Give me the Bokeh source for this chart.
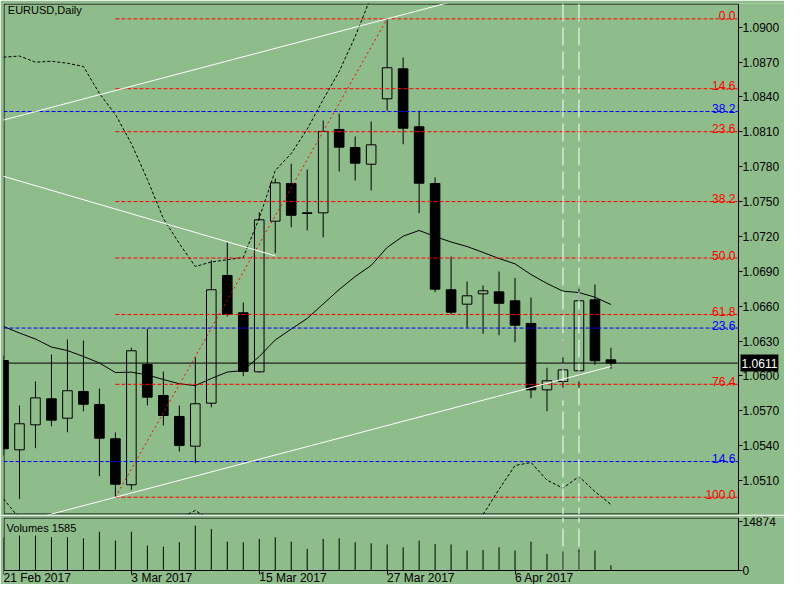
import numpy as np
from bokeh.plotting import figure
from bokeh.layouts import column
from bokeh.models import Range1d, FixedTicker, NumeralTickFormatter, Label, Span
from bokeh.embed import file_html
from bokeh.resources import INLINE
from bokeh.core.properties import value

BG = "#8FBC8B"
FONT = "Liberation Sans"
NAN = float("nan")

# ---------------- data ----------------
dates = ["21 Feb 2017", "22 Feb 2017", "23 Feb 2017", "24 Feb 2017", "27 Feb 2017", "28 Feb 2017",
         "1 Mar 2017", "2 Mar 2017", "3 Mar 2017", "6 Mar 2017", "7 Mar 2017", "8 Mar 2017",
         "9 Mar 2017", "10 Mar 2017", "13 Mar 2017", "14 Mar 2017", "15 Mar 2017", "16 Mar 2017",
         "17 Mar 2017", "20 Mar 2017", "21 Mar 2017", "22 Mar 2017", "23 Mar 2017", "24 Mar 2017",
         "27 Mar 2017", "28 Mar 2017", "29 Mar 2017", "30 Mar 2017", "31 Mar 2017", "3 Apr 2017",
         "4 Apr 2017", "5 Apr 2017", "6 Apr 2017", "7 Apr 2017", "10 Apr 2017", "11 Apr 2017",
         "12 Apr 2017", "13 Apr 2017", "14 Apr 2017"]

opens = [1.06132, 1.05364, 1.05579, 1.05803, 1.05636, 1.05866, 1.05754, 1.05459, 1.05063, 1.06098,
         1.05831, 1.05651, 1.05395, 1.05765, 1.06864, 1.06543, 1.06035, 1.07331, 1.07655, 1.07403,
         1.07403, 1.08120, 1.07965, 1.07821, 1.08384, 1.08642, 1.08143, 1.07655, 1.06741, 1.06617,
         1.06706, 1.06723, 1.06646, 1.06451, 1.05880, 1.05952, 1.06044, 1.06655, 1.06138]
highs = [1.06175, 1.05745, 1.05952, 1.06184, 1.06313, 1.06304, 1.05891, 1.05513, 1.06242, 1.06405,
         1.06038, 1.05745, 1.06158, 1.06993, 1.07150, 1.06631, 1.07408, 1.07698, 1.07825, 1.07776,
         1.08197, 1.08257, 1.08060, 1.08189, 1.09072, 1.08739, 1.08281, 1.07707, 1.07027, 1.06812,
         1.06778, 1.06898, 1.06844, 1.06674, 1.06070, 1.06304, 1.06749, 1.06786, 1.06242]
lows = [1.05315, 1.04942, 1.05378, 1.05567, 1.05515, 1.05696, 1.05137, 1.04956, 1.05020, 1.05745,
        1.05573, 1.05349, 1.05249, 1.05730, 1.06511, 1.05997, 1.06029, 1.07056, 1.07279, 1.07251,
        1.07193, 1.07758, 1.07681, 1.07595, 1.08281, 1.07993, 1.07400, 1.06720, 1.06528, 1.06414,
        1.06362, 1.06350, 1.06290, 1.05808, 1.05696, 1.05788, 1.05889, 1.06095, 1.06061]
closes = [1.05373, 1.05588, 1.05811, 1.05619, 1.05872, 1.05756, 1.05464, 1.05068, 1.06216, 1.05817,
          1.05659, 1.05401, 1.05760, 1.06741, 1.06528, 1.06038, 1.07343, 1.07661, 1.07382, 1.07397,
          1.08103, 1.07968, 1.07830, 1.07988, 1.08651, 1.08131, 1.07658, 1.06746, 1.06548, 1.06689,
          1.06732, 1.06625, 1.06436, 1.05880, 1.05958, 1.06052, 1.06646, 1.06130, 1.06110]
volumes = [10000, 10535, 10535, 10032, 10032, 9700, 11700, 9030, 11700, 7525,
           7190, 8530, 13540, 12540, 8700, 8530, 9530, 10030, 8700, 6520,
           9530, 9700, 8530, 8200, 7860, 7020, 9030, 8030, 7860, 6020,
           6190, 7020, 6020, 8700, 5020, 5690, 6350, 6020, 1585]

ma14 = [1.06425, 1.06369, 1.06317, 1.06248, 1.06218, 1.06167, 1.06111, 1.06029, 1.06032, 1.06008,
        1.05969, 1.05932, 1.05917, 1.05977, 1.06033, 1.06046, 1.06167, 1.06309, 1.06403, 1.06494,
        1.06619, 1.06743, 1.06855, 1.06950, 1.07105, 1.07202, 1.07251, 1.07199, 1.07152, 1.07113,
        1.07062, 1.07010, 1.06964, 1.06872, 1.06795, 1.06729, 1.06717, 1.06677, 1.06614]
band_upper = [1.08742, 1.08752, 1.08699, 1.08707, 1.08690, 1.08662, 1.08430, 1.08249, 1.07999, 1.07690,
              1.07354, 1.07139, 1.06941, 1.06980, 1.06999, 1.07019, 1.07358, 1.07767, 1.07913, 1.08123,
              1.08378, 1.08619, 1.08920, 1.09264, 1.09574, NAN, NAN, NAN, NAN, NAN,
              NAN, NAN, NAN, NAN, NAN, NAN, NAN, NAN, NAN]
band_lower = [1.04942, 1.04773, 1.04584, NAN, NAN, NAN, NAN, NAN, NAN, NAN,
              NAN, 1.04773, 1.04842, 1.04756, NAN, NAN, NAN, NAN, NAN, NAN,
              NAN, NAN, NAN, NAN, NAN, NAN, NAN, NAN, NAN, 1.04541,
              1.04807, 1.05024, 1.05229, 1.05255, 1.05103, 1.05034, 1.05134, 1.05005, 1.04893]

price_ticks = [1.0510, 1.0540, 1.0570, 1.0600, 1.0630, 1.0660, 1.0690,
               1.0720, 1.0750, 1.0780, 1.0810, 1.0840, 1.0870, 1.0900]
date_tick_idx = [0, 8, 16, 24, 32]
volume_ticks = [0, 14874]

fib_red_levels = [0.0, 14.6, 23.6, 38.2, 50.0, 61.8, 76.4, 100.0]
fib_red_p1 = (7, 1.04956)    # 100 %
fib_red_p2 = (24, 1.09072)   # 0 %
fib_blue_levels = [14.6, 23.6, 38.2]
fib_blue_p1 = 1.1616         # 100 %
fib_blue_p2 = 1.0340         # 0 %

channel_x = [7, 38]
channel_y = [1.04956, 1.06081]
channel_upper_anchor = (24, 1.09072)
falling_x = [0, 17]
falling_y = [1.07717, 1.07033]
vline_idx = [35, 36]
bid_price = 1.0611
vol_current = 1585

# ---------------- layout constants ----------------
PX_PER_BAR = 15.985
X_START = 0.0
X_EDGE = 45.98            # right border of the chart panels (axis position)
X_END = 781 / PX_PER_BAR  # frame reaches the right edge of the canvas
Y_LO, Y_HI = 1.048074, 1.092039
PX_PER_PRICE = 511 / (Y_HI - Y_LO)
V_LO, V_HI = -4226, 16000
PX_PER_VOL = 67 / (V_HI - V_LO)
idx = list(range(len(dates)))


def style_axis(ax):
    ax.major_tick_in = 0
    ax.major_tick_out = 4
    ax.minor_tick_in = 0
    ax.minor_tick_out = 0
    ax.axis_line_color = None
    ax.major_tick_line_color = "black"
    ax.major_label_standoff = 0
    ax.major_label_text_font = FONT
    ax.major_label_text_font_size = "12px"
    ax.major_label_text_color = "black"


# ---------------- main price panel ----------------
p = figure(width=784, height=515, x_range=Range1d(X_START, X_END), y_range=Range1d(Y_LO, Y_HI),
           x_axis_location=None, y_axis_location="right", toolbar_location=None,
           output_backend="svg", background_fill_color=BG, border_fill_color=BG,
           outline_line_color=None,
           min_border_left=3, min_border_right=0, min_border_top=3, min_border_bottom=1)
p.grid.visible = False
ya = p.yaxis[0]
ya.ticker = FixedTicker(ticks=price_ticks)
ya.formatter = NumeralTickFormatter(format="0.0000")
style_axis(ya)
ya.fixed_location = X_EDGE

# panel border
hx = 0.5 / PX_PER_BAR
hy = 0.5 / PX_PER_PRICE
p.quad(left=[X_START + hx], right=[X_EDGE], bottom=[Y_LO + hy], top=[Y_HI - hy],
       fill_color=None, line_color="black", line_width=1)

bull = [i for i in idx if closes[i] >= opens[i]]
bear = [i for i in idx if closes[i] < opens[i]]

p.segment(x0=idx, y0=lows, x1=idx, y1=highs, line_color="black", line_width=1)
p.vbar(x=bull, width=0.6, bottom=[opens[i] for i in bull], top=[closes[i] for i in bull],
       fill_color=BG, line_color="black", line_width=1)
p.vbar(x=bear, width=0.6, bottom=[closes[i] for i in bear], top=[opens[i] for i in bear],
       fill_color="black", line_color="black", line_width=1)

# indicators
p.line(idx, ma14, line_color="black", line_width=1)
p.line(idx, np.array(band_upper), line_color="black", line_width=1, line_dash="3 2")
p.line(idx, np.array(band_lower), line_color="black", line_width=1, line_dash="3 2")

# bid line
p.segment(x0=[X_START], y0=[bid_price], x1=[X_EDGE], y1=[bid_price], line_color="black", line_width=1)

# red fibonacci
red_prices = [fib_red_p2[1] + lv / 100.0 * (fib_red_p1[1] - fib_red_p2[1]) for lv in fib_red_levels]
p.segment(x0=[fib_red_p1[0]] * len(red_prices), y0=red_prices, x1=[X_EDGE] * len(red_prices), y1=red_prices,
          line_color="#FF0000", line_width=1, line_dash="4 2")
p.line([fib_red_p1[0], fib_red_p2[0]], [fib_red_p1[1], fib_red_p2[1]],
       line_color="#FF0000", line_width=1, line_dash="2 3")

# blue fibonacci
blue_prices = [fib_blue_p2 + lv / 100.0 * (fib_blue_p1 - fib_blue_p2) for lv in fib_blue_levels]
p.segment(x0=[X_START] * len(blue_prices), y0=blue_prices, x1=[X_EDGE] * len(blue_prices), y1=blue_prices,
          line_color="#0000FF", line_width=1, line_dash="4 2")

# channel lines
slope = (channel_y[1] - channel_y[0]) / (channel_x[1] - channel_x[0])
low_x = [0, channel_x[1]]
low_y = [channel_y[0] + slope * (x - channel_x[0]) for x in low_x]
p.line(low_x, low_y, line_color="white", line_width=1)
up_x = [-1, 30]
up_y = [channel_upper_anchor[1] + slope * (x - channel_upper_anchor[0]) for x in up_x]
p.line(up_x, up_y, line_color="white", line_width=1)
fslope = (falling_y[1] - falling_y[0]) / (falling_x[1] - falling_x[0])
fx = [-1, falling_x[1]]
fy = [falling_y[0] + fslope * (x - falling_x[0]) for x in fx]
p.line(fx, fy, line_color="white", line_width=1)

for vx in vline_idx:
    p.add_layout(Span(location=vx, dimension="height", line_color="white", line_width=1, line_dash="18 6"))

# fib labels
LBL_X = 45.79
p.text(x=[LBL_X] * len(red_prices), y=red_prices, text=["%.1f" % lv for lv in fib_red_levels],
       text_color="#FF0000", text_font=value(FONT), text_font_size="12px",
       text_align="right", text_baseline="alphabetic", y_offset=-3)
p.text(x=[LBL_X] * len(blue_prices), y=blue_prices, text=["%.1f" % lv for lv in fib_blue_levels],
       text_color="#0000FF", text_font=value(FONT), text_font_size="12px",
       text_align="right", text_baseline="alphabetic", y_offset=-3)

p.add_layout(Label(x=0.27, y=1.09200, text="EURUSD,Daily", text_font=FONT, text_font_size="11px",
                   text_color="black", text_baseline="top", text_align="left"))
p.add_layout(Label(x=46.11, y=bid_price, text="%.4f" % bid_price, text_font=FONT,
                   text_font_size="12px", text_color="white", text_baseline="middle", text_align="left",
                   background_fill_color="black", padding=(1, 4)))

# ---------------- volume panel ----------------
v = figure(width=784, height=69, x_range=Range1d(X_START, X_END), y_range=Range1d(V_LO, V_HI),
           x_axis_location="below", y_axis_location="right", toolbar_location=None,
           output_backend="svg", background_fill_color=BG, border_fill_color=BG,
           outline_line_color=None,
           min_border_left=3, min_border_right=0, min_border_top=2, min_border_bottom=0)
v.grid.visible = False
hv = 0.5 / PX_PER_VOL
v.quad(left=[X_START + hx], right=[X_EDGE], bottom=[0], top=[V_HI - hv],
       fill_color=None, line_color="black", line_width=1)
v.segment(x0=vline_idx, y0=[0] * len(vline_idx), x1=vline_idx, y1=[V_HI] * len(vline_idx),
          line_color="white", line_width=1, line_dash="18 6")
v.segment(x0=idx, y0=[0] * len(idx), x1=idx, y1=volumes, line_color="black", line_width=1)

xa = v.xaxis[0]
xa.ticker = FixedTicker(ticks=date_tick_idx)
xa.major_label_overrides = {i: dates[i] for i in date_tick_idx}
style_axis(xa)
xa.fixed_location = 0
xa.major_label_orientation = -0.0001
xa.major_label_standoff = 3

vy = v.yaxis[0]
vy.ticker = FixedTicker(ticks=volume_ticks)
vy.major_label_overrides = {t: str(t) for t in volume_ticks}
style_axis(vy)
vy.fixed_location = X_EDGE

v.add_layout(Label(x=0.19, y=14750, text="Volumes %d" % vol_current, text_font=FONT,
                   text_font_size="11px", text_color="black", text_baseline="top", text_align="left"))

layout = column(p, v)
open("out.html", "w").write(file_html(layout, INLINE, title="EURUSD,Daily"))
